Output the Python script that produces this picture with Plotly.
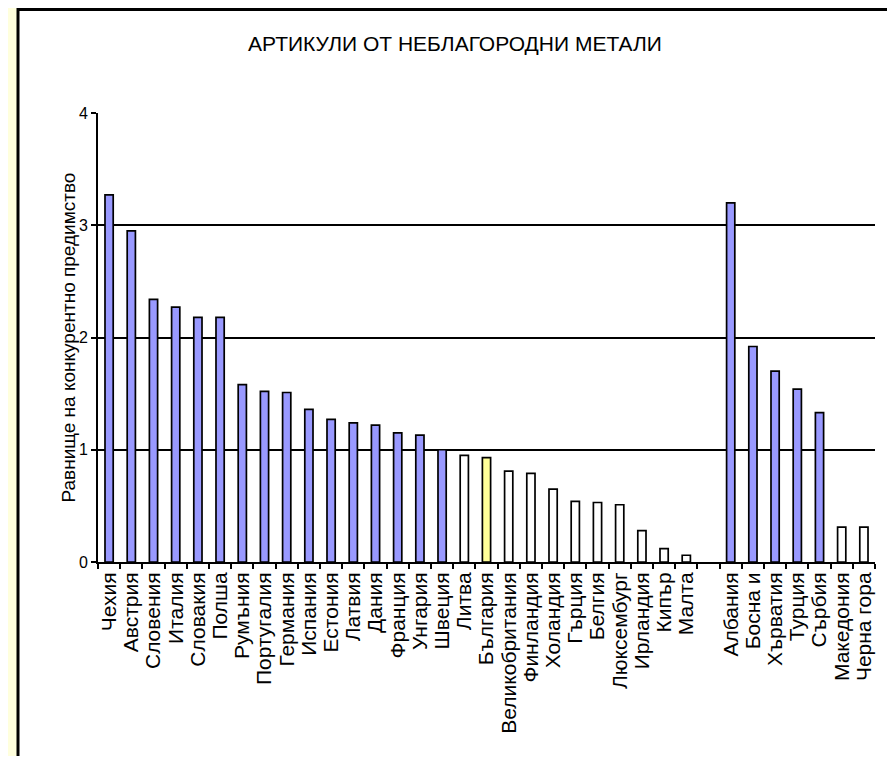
import plotly.graph_objects as go

COUNTRIES = [
    "Чехия", "Австрия", "Словения", "Италия", "Словакия", "Полша", "Румъния",
    "Португалия", "Германия", "Испания", "Естония", "Латвия", "Дания", "Франция",
    "Унгария", "Швеция", "Литва", "България", "Великобритания", "Финландия",
    "Холандия", "Гърция", "Белгия", "Люксембург", "Ирландия", "Кипър", "Малта",
    " ",
    "Албания", "Босна и", "Хърватия", "Турция", "Сърбия", "Македония", "Черна гора",
]
VALUES = [
    3.27, 2.95, 2.34, 2.27, 2.18, 2.18, 1.58,
    1.52, 1.51, 1.36, 1.27, 1.24, 1.22, 1.15,
    1.13, 1.00, 0.95, 0.93, 0.81, 0.79,
    0.65, 0.54, 0.53, 0.51, 0.28, 0.12, 0.06,
    None,
    3.20, 1.92, 1.70, 1.54, 1.33, 0.31, 0.31,
]
HIGHLIGHT = "България"
Y_TICKS = [0, 1, 2, 3, 4]

TITLE = "АРТИКУЛИ ОТ НЕБЛАГОРОДНИ МЕТАЛИ"
Y_TITLE = "Равнище на конкурентно предимство"

BLUE = "#9999FF"
YELLOW = "#FFFF99"
PAGE = "#FFFFDD"
FONT = "Liberation Sans, Arial, sans-serif"

# the page puts the figure 8px in from the top-left corner, so work in
# reference pixels and shift everything by that offset; keep the figure
# small enough that the page does not scroll
OFF = 8
W, H = 895 - OFF, 764 - 2 * OFF
PLOT_L, PLOT_R, PLOT_T, PLOT_B = 98 - OFF, 875 - OFF, 113 - OFF, 562 - OFF


def px_x(x):
    return (x - OFF - PLOT_L) / (PLOT_R - PLOT_L)


def px_y(y):
    return (PLOT_B - (y - OFF)) / (PLOT_B - PLOT_T)


def bar_color(name, v):
    if name == HIGHLIGHT:
        return YELLOW
    if v is not None and v >= 1:
        return BLUE
    return "white"


colors = [bar_color(n, v) for n, v in zip(COUNTRIES, VALUES)]

fig = go.Figure()
fig.add_trace(
    go.Bar(
        x=COUNTRIES,
        y=VALUES,
        width=0.37,
        marker={"color": colors, "line": {"color": "black", "width": 1.7}},
        showlegend=False,
    )
)

# white chart area with black frame on the yellow page
fig.add_shape(
    type="rect",
    xref="paper",
    yref="paper",
    x0=px_x(18),
    x1=px_x(892),
    y0=px_y(800),
    y1=px_y(9.5),
    fillcolor="white",
    line={"color": "black", "width": 3},
    layer="below",
)

fig.add_annotation(
    text=Y_TITLE,
    xref="paper",
    yref="paper",
    x=px_x(68),
    y=0.5,
    xanchor="center",
    yanchor="middle",
    textangle=-90,
    showarrow=False,
    font={"size": 19, "color": "black", "family": FONT},
)

fig.update_layout(
    title={
        "text": TITLE,
        "x": (455 - OFF) / W,
        "xanchor": "center",
        "y": 1 - (44 - OFF) / H,
        "yanchor": "middle",
        "font": {"size": 21, "color": "black", "family": FONT},
    },
    width=W,
    height=H,
    margin={"l": PLOT_L, "r": W - PLOT_R, "t": PLOT_T, "b": H - PLOT_B, "pad": 0},
    paper_bgcolor=PAGE,
    plot_bgcolor="rgba(0,0,0,0)",
    font={"family": FONT, "color": "black"},
    xaxis={
        "type": "category",
        "tickmode": "linear",
        "dtick": 1,
        "tickson": "boundaries",
        "ticks": "outside",
        "ticklen": 5,
        "tickwidth": 2,
        "tickcolor": "black",
        "tickangle": -90,
        "tickfont": {"size": 21, "color": "black"},
        "showline": True,
        "linecolor": "black",
        "linewidth": 2,
        "showgrid": False,
        "range": [-0.5, len(COUNTRIES) - 0.5],
    },
    yaxis={
        "range": [0, 4],
        "tickvals": Y_TICKS,
        "ticks": "outside",
        "ticklen": 5,
        "tickwidth": 2,
        "tickcolor": "black",
        "tickfont": {"size": 16, "color": "black"},
        "showline": True,
        "linecolor": "black",
        "linewidth": 2,
        "showgrid": True,
        "gridcolor": "black",
        "gridwidth": 1.5,
        "zeroline": False,
    },
)

fig.write_html("out.html")
